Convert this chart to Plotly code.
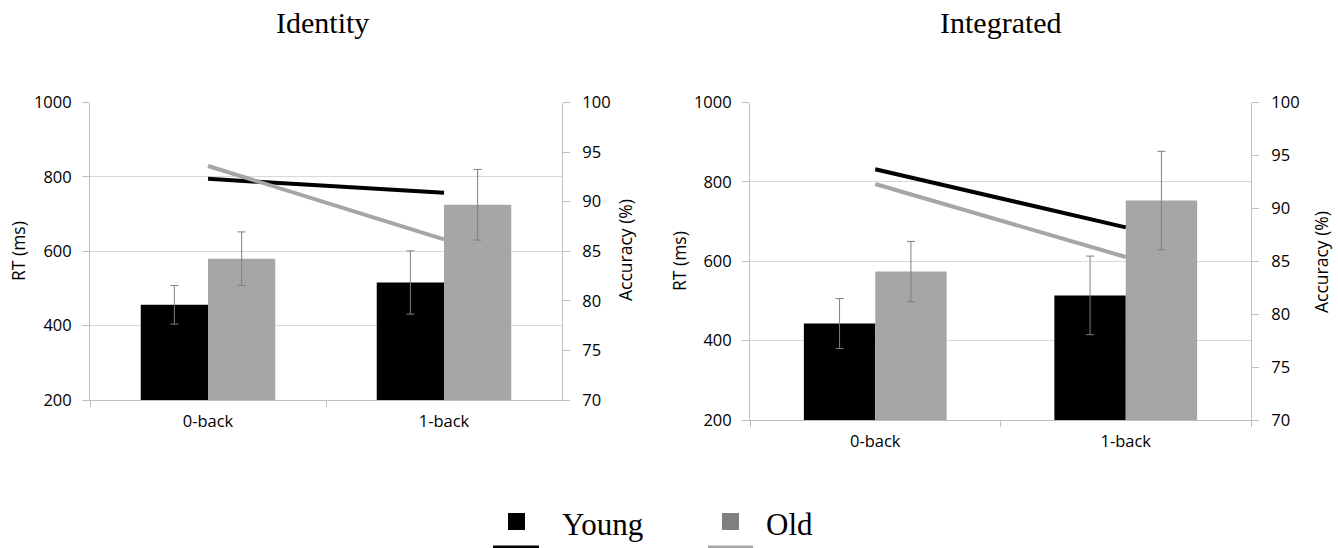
import plotly.graph_objects as go

W, H = 1338, 548

categories = ["0-back", "1-back"]

# Identity panel
id_rt_young = [456, 516]
id_rt_young_err = [52, 85]
id_rt_old = [580, 725]
id_rt_old_err = [72, 95]
id_acc_young = [92.3, 90.9]
id_acc_old = [93.6, 86.2]

# Integrated panel
in_rt_young = [443, 514]
in_rt_young_err = [63, 99]
in_rt_old = [574, 753]
in_rt_old_err = [76, 124]
in_acc_young = [93.7, 88.2]
in_acc_old = [92.3, 85.4]

panel_titles = ["Identity", "Integrated"]
rt_ticks = [200, 400, 600, 800, 1000]
acc_ticks = [70, 75, 80, 85, 90, 95, 100]

BLACK = "#000000"
GRAY = "#a6a6a6"
ERR = "#7f7f7f"
AXIS = "#bfbfbf"
GRID = "#d9d9d9"
TICKFONT = dict(family="Open Sans", size=16.5, color="#000000")


def px(x):
    return x / W


def py(y):
    return (H - y) / H


fig = go.Figure()

panels = [
    ("x", "y", "y2", id_rt_young, id_rt_young_err, id_rt_old, id_rt_old_err, id_acc_young, id_acc_old),
    ("x2", "y3", "y4", in_rt_young, in_rt_young_err, in_rt_old, in_rt_old_err, in_acc_young, in_acc_old),
]

for xa, ya, ya2, ry, rye, ro, roe, ay, ao in panels:
    fig.add_trace(go.Bar(x=categories, y=ry, xaxis=xa, yaxis=ya, marker=dict(color=BLACK, line=dict(width=0)),
                         error_y=dict(type="data", array=rye, color=ERR, thickness=1, width=4),
                         offsetgroup="young", showlegend=False))
    fig.add_trace(go.Bar(x=categories, y=ro, xaxis=xa, yaxis=ya, marker=dict(color=GRAY, line=dict(width=0)),
                         error_y=dict(type="data", array=roe, color=ERR, thickness=1, width=4),
                         offsetgroup="old", showlegend=False))
    fig.add_trace(go.Scatter(x=categories, y=ay, xaxis=xa, yaxis=ya2, mode="lines",
                             line=dict(color=BLACK, width=4), showlegend=False))
    fig.add_trace(go.Scatter(x=categories, y=ao, xaxis=xa, yaxis=ya2, mode="lines",
                             line=dict(color=GRAY, width=4), showlegend=False))

common_x = dict(type="category", showline=True, linecolor=AXIS, linewidth=1, ticks="outside",
                tickson="boundaries", ticklen=6, tickcolor=AXIS, showgrid=False, tickfont=TICKFONT,
                range=[-0.5, 1.5], fixedrange=True, automargin=False, ticklabelstandoff=6)
common_y = dict(range=[200, 1000], tickvals=rt_ticks, showline=True, linecolor=AXIS, linewidth=1,
                ticks="outside", ticklen=7, tickcolor=AXIS, showgrid=True, gridcolor=GRID, gridwidth=1,
                tickfont=TICKFONT, zeroline=False, automargin=False, fixedrange=True,
                ticklabelstandoff=7)
common_y2 = dict(range=[70, 100], tickvals=acc_ticks, side="right", showline=True, linecolor=AXIS,
                 linewidth=1, ticks="outside", ticklen=7, tickcolor=AXIS, showgrid=False,
                 tickfont=TICKFONT, zeroline=False, automargin=False, fixedrange=True,
                 ticklabelstandoff=9)

fig.update_layout(
    template="none",
    width=W, height=H,
    margin=dict(l=0, r=0, t=0, b=0, pad=0),
    paper_bgcolor="white", plot_bgcolor="white",
    barmode="group", bargap=0.43, bargroupgap=0,
    showlegend=False,
    xaxis=dict(domain=[px(90), px(562)], anchor="y", **common_x),
    yaxis=dict(domain=[py(400), py(102.5)], anchor="x", **common_y),
    yaxis2=dict(overlaying="y", anchor="x", **common_y2),
    xaxis2=dict(domain=[px(750), px(1251)], anchor="y3", **common_x),
    yaxis3=dict(domain=[py(420), py(102.5)], anchor="x2", **common_y),
    yaxis4=dict(overlaying="y3", anchor="x2", **common_y2),
)

ann = []
TITLEFONT = dict(family="Liberation Serif", size=30, color="#000000")
ann.append(dict(text=panel_titles[0], x=px(322), y=py(22), xref="paper", yref="paper", showarrow=False,
                font=TITLEFONT, xanchor="center", yanchor="middle"))
ann.append(dict(text=panel_titles[1], x=px(1001), y=py(22), xref="paper", yref="paper", showarrow=False,
                font=TITLEFONT, xanchor="center", yanchor="middle"))
AXFONT = dict(family="Open Sans", size=17.5, color="#000000")
for txt, xx, yy in [("RT (ms)", 18, 251), ("Accuracy (%)", 625, 250), ("RT (ms)", 679, 261),
                    ("Accuracy (%)", 1321, 262)]:
    ann.append(dict(text=txt, x=px(xx), y=py(yy), xref="paper", yref="paper", showarrow=False,
                    font=AXFONT, textangle=-90, xanchor="center", yanchor="middle"))

LEGFONT = dict(family="Liberation Serif", size=31, color="#000000")
ann.append(dict(text="Young", x=px(560), y=py(524), xref="paper", yref="paper", showarrow=False,
                font=LEGFONT, xanchor="left", yanchor="middle"))
ann.append(dict(text="Old", x=px(764), y=py(524), xref="paper", yref="paper", showarrow=False,
                font=LEGFONT, xanchor="left", yanchor="middle"))
fig.update_layout(annotations=ann)

shapes = [
    dict(type="rect", xref="paper", yref="paper", x0=px(508), x1=px(525), y0=py(530), y1=py(513),
         fillcolor=BLACK, line=dict(width=0)),
    dict(type="rect", xref="paper", yref="paper", x0=px(722), x1=px(739), y0=py(530), y1=py(513),
         fillcolor="#808080", line=dict(width=0)),
    dict(type="line", xref="paper", yref="paper", x0=px(493), x1=px(539), y0=py(547), y1=py(547),
         line=dict(color=BLACK, width=3)),
    dict(type="line", xref="paper", yref="paper", x0=px(708), x1=px(753), y0=py(547), y1=py(547),
         line=dict(color=GRAY, width=3)),
]
fig.update_layout(shapes=shapes)

fig.write_html("out.html", config={"displayModeBar": False},
               post_script="document.body.style.margin='0';document.body.style.overflow='hidden';")
